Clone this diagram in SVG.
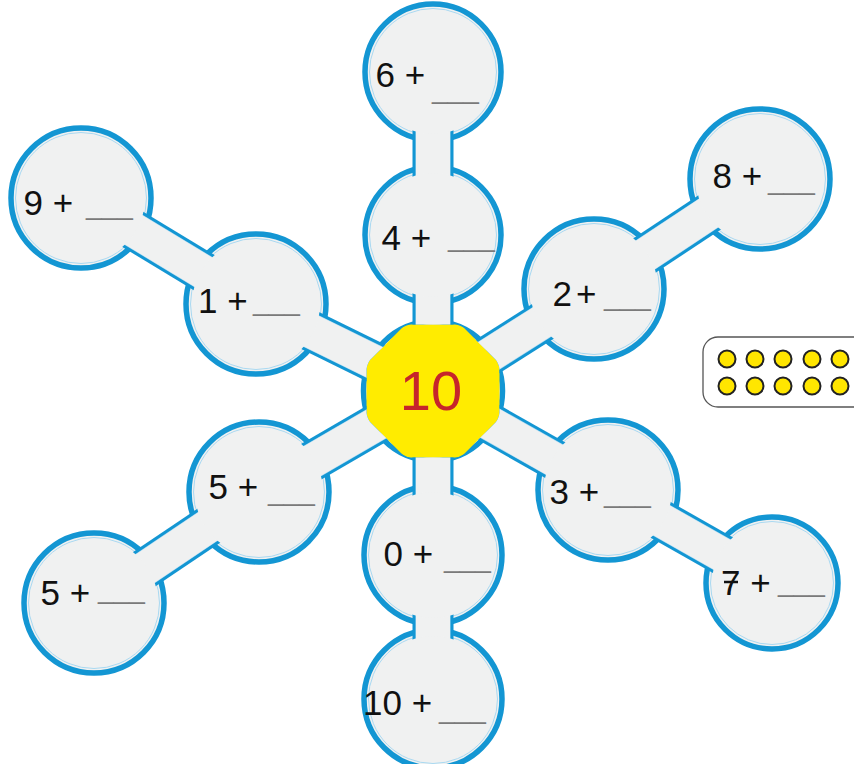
<svg xmlns="http://www.w3.org/2000/svg" xmlns:xlink="http://www.w3.org/1999/xlink" width="854" height="764" viewBox="0 0 854 764">
<style>
.ring{fill:#f0f1f1;stroke:#1396d3;stroke-width:5.5}
.inner{fill:none;stroke:#a9d9f1;stroke-width:1}
.lbl{font-family:"Liberation Sans",Arial,sans-serif;font-size:35px;fill:#111}
.blank{font-size:28px;fill:#7a7a7a}
.edge{fill:none;stroke:#1396d3;stroke-width:41}
.light{fill:none;stroke:#a9d9f1;stroke-width:35}
.bfill{fill:none;stroke:#f0f1f1;stroke-width:34}
.dot{fill:#ffe600;stroke:#222;stroke-width:2}
</style>
<defs>
<polygon id="oct" points="499.5,363.45 460.55,324.5 405.45,324.5 366.5,363.45 366.5,418.55 405.45,457.5 460.55,457.5 499.5,418.55"/>
<clipPath id="octclip"><circle cx="433" cy="391" r="70.5"/></clipPath>
<path id="b64" d="M433 72 L433 235"/>
<path id="b4c" d="M433 235 L433 391"/>
<path id="b82" d="M760 179 L594 289"/>
<path id="b2c" d="M594 289 L433 391"/>
<path id="b91" d="M81 198 L256 304"/>
<path id="b1c" d="M256 304 L433 391"/>
<path id="b55" d="M94 603 L259 492"/>
<path id="b5c" d="M259 492 L433 391"/>
<path id="b100" d="M433 699 L433 555"/>
<path id="b0c" d="M433 555 L433 391"/>
<path id="b73" d="M772 583 L608 490"/>
<path id="b3c" d="M608 490 L433 391"/>
<mask id="holes" maskUnits="userSpaceOnUse" x="0" y="0" width="854" height="764">
<rect x="0" y="0" width="854" height="764" fill="#fff"/>
<circle cx="433" cy="72" r="62" fill="#000"/>
<circle cx="433" cy="235" r="62" fill="#000"/>
<circle cx="760" cy="179" r="64" fill="#000"/>
<circle cx="594" cy="289" r="64" fill="#000"/>
<circle cx="81" cy="198" r="64" fill="#000"/>
<circle cx="256" cy="304" r="64" fill="#000"/>
<circle cx="259" cy="492" r="64" fill="#000"/>
<circle cx="94" cy="603" r="64" fill="#000"/>
<circle cx="608" cy="490" r="64" fill="#000"/>
<circle cx="772" cy="583" r="60" fill="#000"/>
<circle cx="433" cy="555" r="63" fill="#000"/>
<circle cx="433" cy="699" r="63" fill="#000"/>
<use xlink:href="#oct" clip-path="url(#octclip)" fill="#000"/>
</mask>
</defs>
<rect x="0" y="0" width="854" height="764" fill="#ffffff"/>

<g id="nodes">
<g id="node-6">
<circle class="ring" cx="433" cy="72" r="68"/><circle class="inner" cx="433" cy="72" r="63.5"/>
<text class="lbl" x="375.5" y="87">6 + <tspan class="blank" x="432" y="98">___</tspan></text>
</g>
<g id="node-4">
<circle class="ring" cx="433" cy="235" r="68"/><circle class="inner" cx="433" cy="235" r="63.5"/>
<text class="lbl" x="381.5" y="250">4 + <tspan class="blank" x="448" y="246">___</tspan></text>
</g>
<g id="node-8">
<circle class="ring" cx="760" cy="179" r="70"/><circle class="inner" cx="760" cy="179" r="65.5"/>
<text class="lbl" x="712.5" y="188">8 +<tspan class="blank" x="768" y="189">___</tspan></text>
</g>
<g id="node-2">
<circle class="ring" cx="594" cy="289" r="70"/><circle class="inner" cx="594" cy="289" r="65.5"/>
<text class="lbl" x="552.5" y="306">2<tspan dx="4">+</tspan> <tspan class="blank" x="604" y="305">___</tspan></text>
</g>
<g id="node-9">
<circle class="ring" cx="81" cy="198" r="70"/><circle class="inner" cx="81" cy="198" r="65.5"/>
<text class="lbl" x="23.5" y="215">9 + <tspan class="blank" x="86" y="214">___</tspan></text>
</g>
<g id="node-1">
<circle class="ring" cx="256" cy="304" r="70"/><circle class="inner" cx="256" cy="304" r="65.5"/>
<text class="lbl" x="198" y="313">1 +<tspan class="blank" x="253" y="310">___</tspan></text>
</g>
<g id="node-5a">
<circle class="ring" cx="259" cy="492" r="70"/><circle class="inner" cx="259" cy="492" r="65.5"/>
<text class="lbl" x="208.5" y="499">5 + <tspan class="blank" x="268" y="500">___</tspan></text>
</g>
<g id="node-5b">
<circle class="ring" cx="94" cy="603" r="70"/><circle class="inner" cx="94" cy="603" r="65.5"/>
<text class="lbl" x="40.5" y="605">5 +<tspan class="blank" x="98" y="598">___</tspan></text>
</g>
<g id="node-3">
<circle class="ring" cx="608" cy="490" r="70"/><circle class="inner" cx="608" cy="490" r="65.5"/>
<text class="lbl" x="549.5" y="504">3 +<tspan class="blank" x="604" y="502">___</tspan></text>
</g>
<g id="node-7">
<circle class="ring" cx="772" cy="583" r="66"/><circle class="inner" cx="772" cy="583" r="61.5"/>
<text class="lbl" x="721" y="595">7 + <tspan class="blank" x="778" y="591">___</tspan></text>
<line x1="724" y1="582" x2="738" y2="582" stroke="#111" stroke-width="2.5"/>
</g>
<g id="node-0">
<circle class="ring" cx="433" cy="555" r="69"/><circle class="inner" cx="433" cy="555" r="64.5"/>
<text class="lbl" x="383.5" y="566">0 + <tspan class="blank" x="444" y="567">___</tspan></text>
</g>
<g id="node-10">
<circle class="ring" cx="433" cy="699" r="69"/><circle class="inner" cx="433" cy="699" r="64.5"/>
<text class="lbl" x="363" y="715">10 + <tspan class="blank" x="439" y="718">___</tspan></text>
</g>
<g id="node-center">
<circle class="ring" cx="433" cy="391" r="69.5"/>
<use xlink:href="#oct" clip-path="url(#octclip)" fill="#ffec00"/>
<text x="431" y="410" text-anchor="middle" font-family="'Liberation Sans',Arial,sans-serif" font-size="56" fill="#c6252b">10</text>
</g>
</g>

<g id="connectors" mask="url(#holes)">
<g id="conn-6-4"><use xlink:href="#b64" class="edge"/><use xlink:href="#b64" class="light"/><use xlink:href="#b64" class="bfill"/></g>
<g id="conn-4-c"><use xlink:href="#b4c" class="edge"/><use xlink:href="#b4c" class="light"/><use xlink:href="#b4c" class="bfill"/></g>
<g id="conn-8-2"><use xlink:href="#b82" class="edge"/><use xlink:href="#b82" class="light"/><use xlink:href="#b82" class="bfill"/></g>
<g id="conn-2-c"><use xlink:href="#b2c" class="edge"/><use xlink:href="#b2c" class="light"/><use xlink:href="#b2c" class="bfill"/></g>
<g id="conn-9-1"><use xlink:href="#b91" class="edge"/><use xlink:href="#b91" class="light"/><use xlink:href="#b91" class="bfill"/></g>
<g id="conn-1-c"><use xlink:href="#b1c" class="edge"/><use xlink:href="#b1c" class="light"/><use xlink:href="#b1c" class="bfill"/></g>
<g id="conn-5b-5a"><use xlink:href="#b55" class="edge"/><use xlink:href="#b55" class="light"/><use xlink:href="#b55" class="bfill"/></g>
<g id="conn-5a-c"><use xlink:href="#b5c" class="edge"/><use xlink:href="#b5c" class="light"/><use xlink:href="#b5c" class="bfill"/></g>
<g id="conn-10-0"><use xlink:href="#b100" class="edge"/><use xlink:href="#b100" class="light"/><use xlink:href="#b100" class="bfill"/></g>
<g id="conn-0-c"><use xlink:href="#b0c" class="edge"/><use xlink:href="#b0c" class="light"/><use xlink:href="#b0c" class="bfill"/></g>
<g id="conn-7-3"><use xlink:href="#b73" class="edge"/><use xlink:href="#b73" class="light"/><use xlink:href="#b73" class="bfill"/></g>
<g id="conn-3-c"><use xlink:href="#b3c" class="edge"/><use xlink:href="#b3c" class="light"/><use xlink:href="#b3c" class="bfill"/></g>
</g>

<g id="ten-frame">
<rect x="703" y="337" width="170" height="70" rx="15" fill="#fff" stroke="#555" stroke-width="1.3"/>
<circle class="dot" cx="727" cy="359" r="8.5"/><circle class="dot" cx="755" cy="359" r="8.5"/><circle class="dot" cx="783" cy="359" r="8.5"/><circle class="dot" cx="812" cy="359" r="8.5"/><circle class="dot" cx="840" cy="359" r="8.5"/>
<circle class="dot" cx="727" cy="386" r="8.5"/><circle class="dot" cx="755" cy="386" r="8.5"/><circle class="dot" cx="783" cy="386" r="8.5"/><circle class="dot" cx="812" cy="386" r="8.5"/><circle class="dot" cx="840" cy="386" r="8.5"/>
</g>
</svg>
